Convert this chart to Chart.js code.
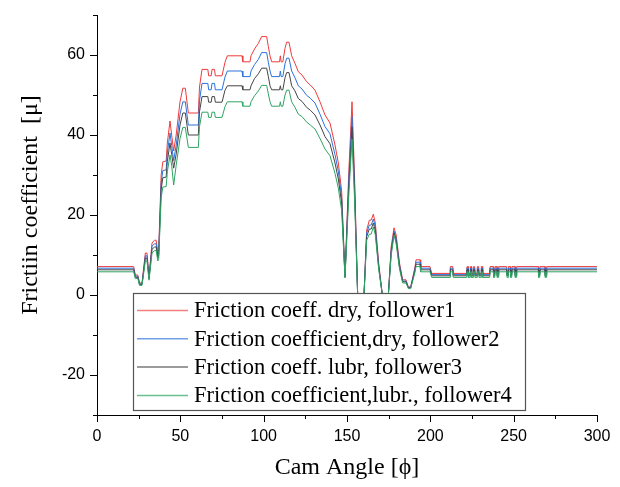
<!DOCTYPE html>
<html>
<head>
<meta charset="utf-8">
<script src="https://cdn.jsdelivr.net/npm/chart.js@4.4.1/dist/chart.umd.min.js"></script>
<style>
  html, body { margin: 0; padding: 0; background: #fff; }
  #frictionChart { display: block; }
</style>
</head>
<body>
<canvas id="frictionChart" width="620" height="487"></canvas>
<script>
'use strict'

// cam angle (deg) shared by all four curves
var angles = [
    0, 22, 23, 24.5, 25.5, 27, 29, 30, 31.2, 33, 34.5, 35.5, 36.5, 37, 38.5, 39.5, 41.5, 42.2, 43.8, 44.8,
    46, 47.5, 49.8, 51.5, 53, 54.8, 60.8, 61.5, 63, 66.5, 67, 68.5, 69, 70.5, 71, 75, 76.8, 78.2, 87, 87.5,
    91.8, 92.4, 94.5, 96.8, 98.8, 101.8, 102.8, 103.8, 104.8, 109.5, 110, 110.5, 111.5, 112.8, 113.8, 115.2, 116.8, 118.8, 120.8, 123,
    125.8, 128, 130.8, 133.8, 136.8, 139.8, 142.8, 144.8, 146.8, 148.8, 151, 153, 154.5, 156.4, 157.5, 158.5, 160.2, 161.8, 163.4, 164.5,
    165.8, 167, 169, 171.2, 172, 174, 174.8, 176.5, 178.2, 179.5, 181.5, 183.4, 185.4, 186.8, 188.2, 190.8, 191.4, 193.8, 194.2, 199.8,
    200.8, 211.8, 212, 213.5, 213.7, 221.8, 222, 222.6, 222.8, 223.8, 224, 224.6, 224.8, 225.8, 226, 226.6, 226.8, 228, 228.2, 229,
    229.2, 230.4, 230.6, 231.2, 231.4, 235.6, 235.8, 237.8, 238, 238.6, 238.8, 240, 240.2, 240.8, 241, 245.8, 246, 246.6, 246.8, 248,
    248.2, 248.8, 249, 250.8, 251, 251.6, 251.8, 264.8, 265, 265.6, 265.8, 268.8, 269, 269.6, 269.8, 300
];

var dryFollower1 = [
    7.1, 7.1, 5.0, 5.0, 3.0, 3.0, 10.5, 10.5, 4.6, 13.0, 13.7, 13.7, 10.5, 11.0, 30.0, 33.3, 33.5, 38.0, 43.5, 40.0,
    36.0, 40.0, 48.3, 51.7, 51.7, 45.5, 45.5, 52.0, 56.4, 56.4, 54.8, 54.8, 56.4, 56.4, 54.8, 54.8, 58.2, 59.8, 59.8, 58.3,
    58.3, 59.8, 61.5, 62.9, 64.6, 64.6, 62.1, 59.8, 58.3, 58.3, 59.8, 58.3, 58.3, 61.7, 63.2, 63.2, 59.8, 57.9, 55.8, 55.0,
    53.3, 52.5, 51.2, 48.3, 45.0, 43.0, 37.5, 33.0, 26.0, 4.6, 30.0, 48.3, 30.0, 0, -26, -26, 0, 16.2, 18.7, 18.7,
    20.2, 18.0, 8.0, 0, -26, -26, 0, 12.0, 16.8, 15.0, 8.0, 3.8, 3.8, 2.0, 2.0, 7.0, 8.8, 8.8, 7.1, 7.1,
    5.4, 5.4, 7.1, 7.1, 5.4, 5.4, 7.1, 7.1, 5.4, 5.4, 7.1, 7.1, 5.4, 5.4, 7.1, 7.1, 5.4, 5.4, 7.1, 7.1,
    5.4, 5.4, 7.1, 7.1, 5.4, 5.4, 7.1, 7.1, 5.4, 5.4, 7.1, 7.1, 5.4, 5.4, 7.1, 7.1, 5.4, 5.4, 7.1, 7.1,
    5.4, 5.4, 7.1, 7.1, 5.4, 5.4, 7.1, 7.1, 5.4, 5.4, 7.1, 7.1, 5.4, 5.4, 7.1, 7.1
];

var dryFollower2 = [
    6.7, 6.7, 4.7, 4.7, 2.8, 2.8, 9.8, 9.8, 4.3, 12.2, 12.8, 12.8, 9.8, 10.3, 28.0, 31.1, 31.3, 35.5, 40.5, 37.4,
    33.6, 37.4, 45.2, 48.3, 48.3, 42.5, 42.5, 48.6, 52.9, 52.9, 51.3, 51.3, 52.9, 52.9, 51.3, 51.3, 54.5, 56.0, 56.0, 54.6,
    54.6, 56.0, 57.6, 58.9, 60.6, 60.6, 58.2, 56.0, 54.6, 54.6, 56.0, 54.6, 54.6, 57.8, 59.2, 59.2, 56.0, 54.3, 52.3, 51.5,
    49.9, 49.2, 48.0, 45.2, 42.1, 40.3, 35.1, 30.9, 24.3, 4.5, 28.0, 44.6, 28.0, 0, -26, -26, 0, 15.5, 17.5, 17.5,
    19.0, 17.0, 7.5, 0, -26, -26, 0, 11.3, 16.0, 14.2, 7.5, 3.5, 3.5, 1.9, 1.9, 6.6, 8.2, 8.2, 6.7, 6.7,
    5.1, 5.1, 6.7, 6.7, 5.1, 5.1, 6.7, 6.7, 5.1, 5.1, 6.7, 6.7, 5.1, 5.1, 6.7, 6.7, 5.1, 5.1, 6.7, 6.7,
    5.1, 5.1, 6.7, 6.7, 5.1, 5.1, 6.7, 6.7, 5.1, 5.1, 6.7, 6.7, 5.1, 5.1, 6.7, 6.7, 5.1, 5.1, 6.7, 6.7,
    5.1, 5.1, 6.7, 6.7, 5.1, 5.1, 6.7, 6.7, 5.1, 5.1, 6.7, 6.7, 5.1, 5.1, 6.7, 6.7
];

var lubrFollower3 = [
    6.3, 6.3, 4.4, 4.4, 2.6, 2.6, 9.2, 9.2, 4.0, 11.4, 12.0, 12.0, 9.2, 9.7, 26.4, 29.3, 29.5, 33.4, 38.0, 35.2,
    31.7, 35.2, 42.5, 45.5, 45.5, 40.0, 40.0, 45.8, 49.6, 49.6, 48.2, 48.2, 49.6, 49.6, 48.2, 48.2, 51.2, 52.3, 52.3, 51.3,
    51.3, 52.3, 54.1, 55.3, 56.7, 56.7, 54.6, 52.3, 51.3, 51.3, 52.3, 51.3, 51.3, 54.3, 55.6, 55.6, 52.3, 51.0, 49.1, 48.4,
    46.9, 46.2, 45.0, 42.5, 39.6, 37.8, 33.0, 29.0, 22.9, 4.4, 26.4, 42.0, 26.4, 0, -26, -26, 0, 14.6, 16.5, 16.5,
    18.0, 16.0, 7.0, 0, -26, -26, 0, 10.6, 15.5, 13.5, 7.0, 3.3, 3.3, 1.8, 1.8, 6.2, 7.7, 7.7, 6.3, 6.3,
    4.8, 4.8, 6.3, 6.3, 4.8, 4.8, 6.3, 6.3, 4.8, 4.8, 6.3, 6.3, 4.8, 4.8, 6.3, 6.3, 4.8, 4.8, 6.3, 6.3,
    4.8, 4.8, 6.3, 6.3, 4.8, 4.8, 6.3, 6.3, 4.8, 4.8, 6.3, 6.3, 4.8, 4.8, 6.3, 6.3, 4.8, 4.8, 6.3, 6.3,
    4.8, 4.8, 6.3, 6.3, 4.8, 4.8, 6.3, 6.3, 4.8, 4.8, 6.3, 6.3, 4.8, 4.8, 6.3, 6.3
];

var lubrFollower4 = [
    5.8, 5.8, 4.1, 4.1, 2.4, 2.4, 8.5, 8.5, 3.7, 10.5, 11.1, 11.1, 8.5, 8.9, 24.3, 27.0, 27.1, 30.8, 35.0, 32.4,
    27.5, 32.4, 39.1, 41.9, 41.9, 36.9, 36.9, 42.1, 45.7, 45.7, 44.4, 44.4, 45.7, 45.7, 44.4, 44.4, 47.1, 48.3, 48.3, 47.2,
    47.2, 48.3, 49.8, 51.0, 52.4, 52.4, 50.3, 48.3, 47.2, 47.2, 48.3, 47.2, 47.2, 50.0, 51.2, 51.2, 48.3, 46.9, 45.2, 44.6,
    43.2, 42.5, 41.5, 39.1, 36.5, 34.8, 30.4, 26.7, 21.1, 4.3, 24.3, 39.0, 24.3, 0, -26, -26, 0, 13.7, 15.2, 15.2,
    17.0, 15.0, 6.5, 0, -26, -26, 0, 9.8, 15.0, 12.8, 6.5, 3.0, 3.0, 1.6, 1.6, 5.7, 7.1, 7.1, 5.8, 5.8,
    4.4, 4.4, 5.8, 5.8, 4.4, 4.4, 5.8, 5.8, 4.4, 4.4, 5.8, 5.8, 4.4, 4.4, 5.8, 5.8, 4.4, 4.4, 5.8, 5.8,
    4.4, 4.4, 5.8, 5.8, 4.4, 4.4, 5.8, 5.8, 4.4, 4.4, 5.8, 5.8, 4.4, 4.4, 5.8, 5.8, 4.4, 4.4, 5.8, 5.8,
    4.4, 4.4, 5.8, 5.8, 4.4, 4.4, 5.8, 5.8, 4.4, 4.4, 5.8, 5.8, 4.4, 4.4, 5.8, 5.8
];

var seriesLabels = [
    'Friction coeff. dry, follower1',
    'Friction coefficient,dry, follower2',
    'Friction coeff. lubr, follower3',
    'Friction coefficient,lubr., follower4'
];
var seriesColors = ['#ee3b3b', '#2a72dc', '#444444', '#2ea463'];
var legendColors = ['#f47f80', '#6f9fe6', '#7a7a7a', '#6cbf8f'];

var xTickValues = [0, 50, 100, 150, 200, 250, 300];
var yTickValues = [-20, 0, 20, 40, 60];
var xTitle = 'Cam Angle [\u03D5]';
var yTitle = 'Frictiin coefficient  [\u03BC]';

var serifFont = '"Liberation Serif", "Times New Roman", serif';
var sansFont = '"Liberation Sans", Arial, sans-serif';

function toPoints(values) {
    return angles.map(function (a, i) { return { x: a, y: values[i] }; });
}

/* minor + major tick marks, axis titles and the boxed legend */
var decorPlugin = {
    id: 'decor',
    afterDraw: function (chart) {
        var ctx = chart.ctx;
        var xs = chart.scales.x;
        var ys = chart.scales.y;
        var area = chart.chartArea;
        ctx.save();
        ctx.strokeStyle = '#000';
        ctx.lineWidth = 1;
        ctx.beginPath();
        for (var v = 0; v <= 300; v += 25) {
            var px = Math.round(xs.getPixelForValue(v)) + 0.5;
            var len = v % 50 === 0 ? 7 : 4;
            ctx.moveTo(px, area.bottom);
            ctx.lineTo(px, area.bottom + len);
        }
        for (var w = -30; w <= 70; w += 10) {
            var py = Math.round(ys.getPixelForValue(w)) + 0.5;
            var l2 = w % 20 === 0 ? 7 : 4;
            ctx.moveTo(area.left, py);
            ctx.lineTo(area.left - l2, py);
        }
        ctx.stroke();

        // axis titles
        ctx.fillStyle = '#000';
        ctx.textAlign = 'center';
        ctx.textBaseline = 'middle';
        ctx.font = '24px ' + serifFont;
        ctx.fillText(xTitle, (area.left + area.right) / 2, 468);
        ctx.save();
        ctx.translate(31, 205);
        ctx.rotate(-Math.PI / 2);
        ctx.fillText(yTitle, 0, 0);
        ctx.restore();

        // legend box
        var bx = 133, by = 293, bw = 392, bh = 117;
        ctx.fillStyle = '#fff';
        ctx.fillRect(bx, by, bw, bh);
        ctx.strokeStyle = '#555';
        ctx.lineWidth = 1.2;
        ctx.strokeRect(bx + 0.5, by + 0.5, bw, bh);
        ctx.font = '22.5px ' + serifFont;
        ctx.textAlign = 'left';
        ctx.textBaseline = 'middle';
        for (var i = 0; i < seriesLabels.length; i++) {
            var ry = by + 17.5 + i * 28.3;
            ctx.strokeStyle = legendColors[i];
            ctx.lineWidth = 1.5;
            ctx.beginPath();
            ctx.moveTo(137, ry);
            ctx.lineTo(188, ry);
            ctx.stroke();
            ctx.fillStyle = '#000';
            ctx.fillText(seriesLabels[i], 194, ry + 1);
        }
        ctx.restore();
    }
};

var frictionCtx = document.getElementById('frictionChart').getContext('2d');
var frictionChart = new Chart(frictionCtx, {
    type: 'line',
    data: {
        datasets: [dryFollower1, dryFollower2, lubrFollower3, lubrFollower4].map(function (vals, i) {
            return {
                label: seriesLabels[i],
                data: toPoints(vals),
                borderColor: seriesColors[i],
                borderWidth: 1,
                pointRadius: 0,
                tension: 0,
                fill: false,
                order: 3 - i
            };
        })
    },
    options: {
        responsive: false,
        animation: false,
        layout: { padding: { top: 15, right: 23, left: 0, bottom: 0 } },
        plugins: {
            legend: { display: false },
            tooltip: { enabled: false }
        },
        scales: {
            x: {
                type: 'linear',
                min: 0,
                max: 300,
                afterBuildTicks: function (scale) {
                    scale.ticks = xTickValues.map(function (v) { return { value: v }; });
                },
                afterFit: function (scale) {
                    scale.height = 72;
                    scale.paddingLeft = 0;
                    scale.paddingRight = 0;
                },
                grid: { display: false, drawTicks: false },
                border: { display: true, color: '#000', width: 1 },
                ticks: {
                    color: '#000',
                    padding: 12,
                    maxRotation: 0,
                    autoSkip: false,
                    font: { family: sansFont, size: 16 }
                }
            },
            y: {
                min: -30,
                max: 70,
                afterBuildTicks: function (scale) {
                    scale.ticks = yTickValues.map(function (v) { return { value: v }; });
                },
                afterFit: function (scale) {
                    scale.width = 97;
                    scale.paddingTop = 0;
                    scale.paddingBottom = 0;
                },
                grid: { display: false, drawTicks: false },
                border: { display: true, color: '#000', width: 1 },
                ticks: {
                    color: '#000',
                    padding: 12,
                    autoSkip: false,
                    font: { family: sansFont, size: 16 }
                }
            }
        }
    },
    plugins: [decorPlugin]
});
</script>
</body>
</html>
